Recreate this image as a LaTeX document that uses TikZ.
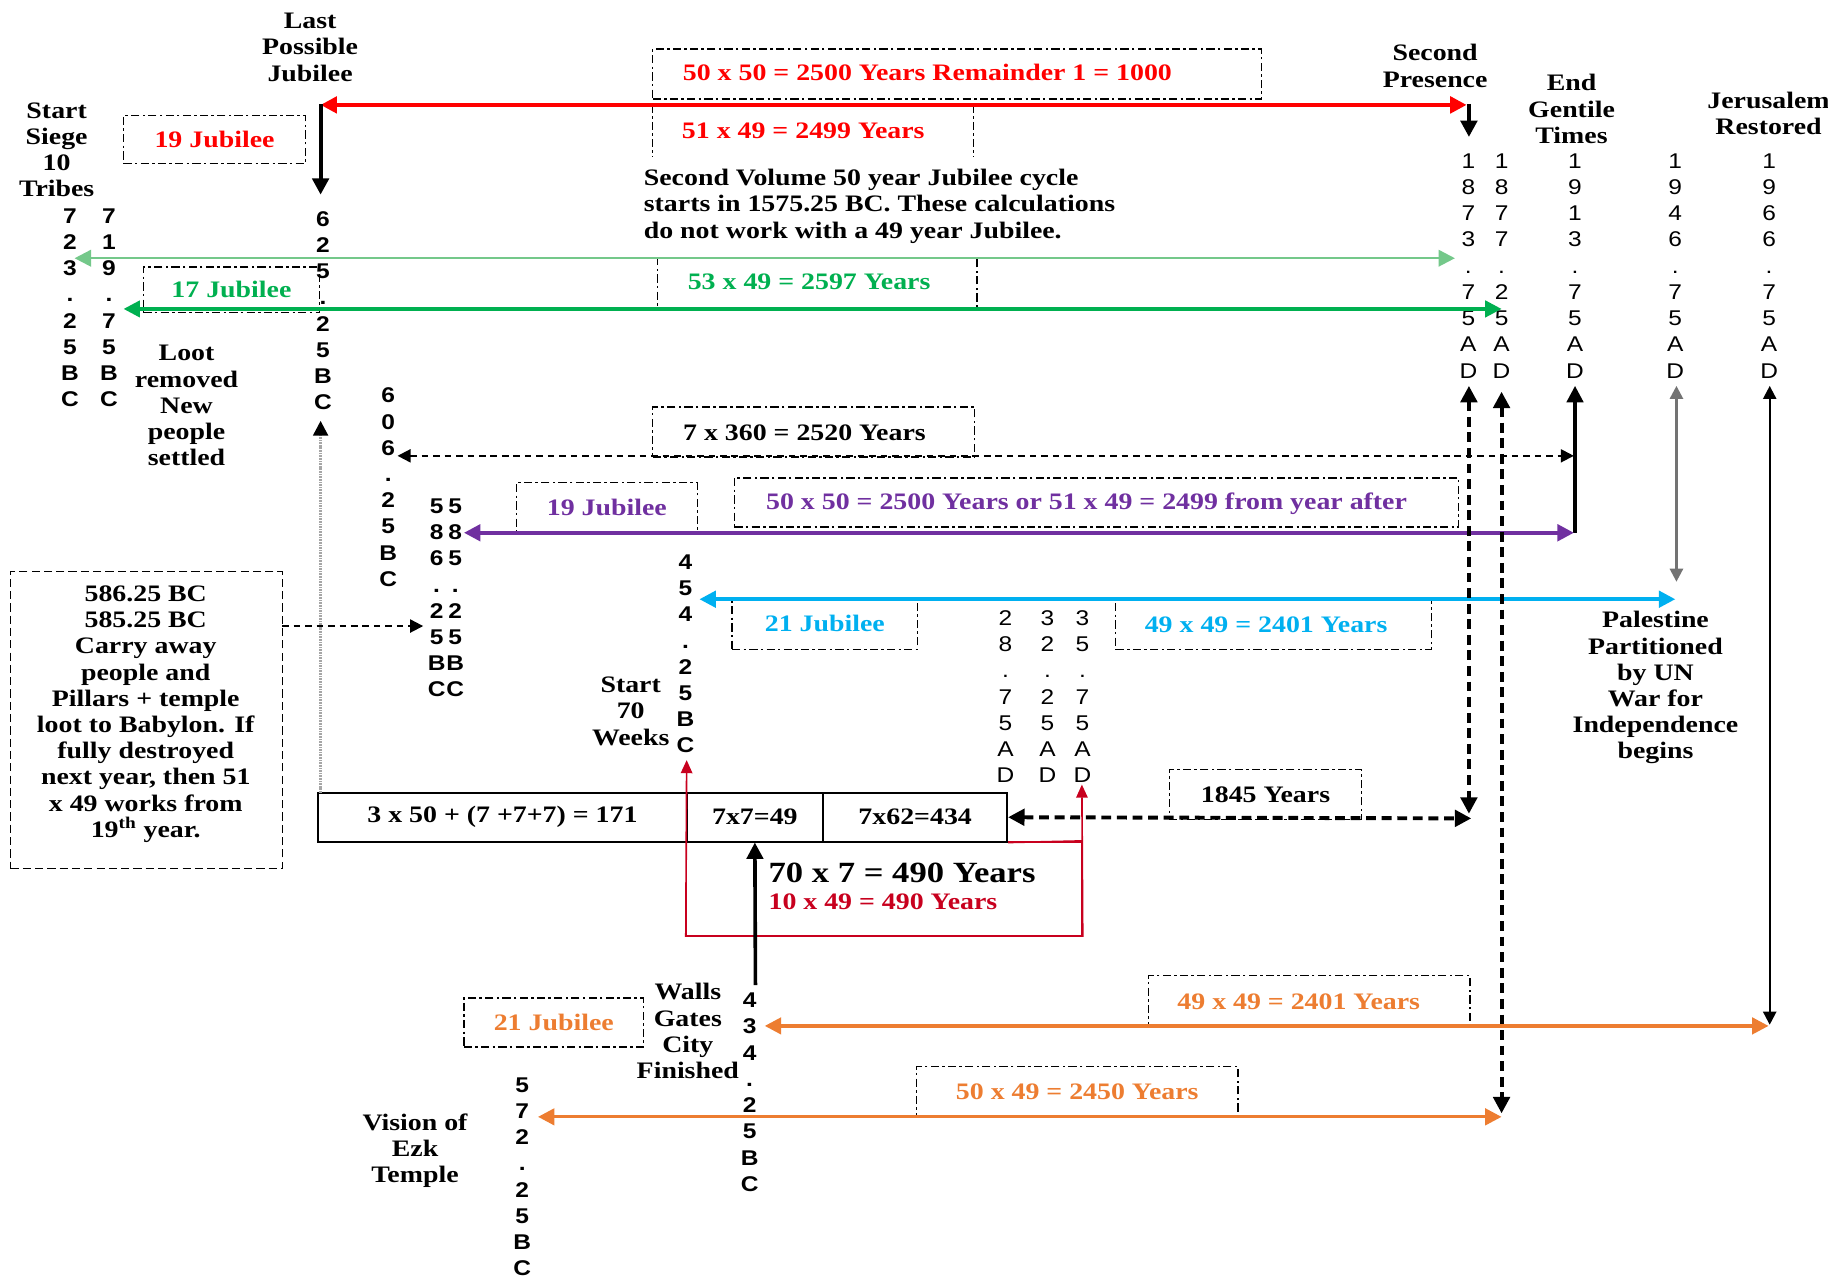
\documentclass[tikz,border=0pt]{standalone}
\usepackage{fontspec}
\newfontfamily\tnr{Liberation Serif}[FakeStretch=1.18]
\newfontfamily\ars{Liberation Sans}[FakeStretch=1.15]
\usetikzlibrary{arrows.meta}
\definecolor{jred}{HTML}{FF0000}
\definecolor{dred}{HTML}{C8001E}
\definecolor{lgreen}{HTML}{74C88A}
\definecolor{jgreen}{HTML}{00B050}
\definecolor{jpurple}{HTML}{7030A0}
\definecolor{jcyan}{HTML}{00B0F0}
\definecolor{jorange}{HTML}{ED7D31}
\tikzset{
  every node/.style={inner sep=0pt},
  lbl/.style={font=\tnr\bfseries\fontsize{14.4}{16}\selectfont, align=center},
  bigl/.style={font=\tnr\bfseries\fontsize{17.9}{20}\selectfont},
  digb/.style={font=\ars\bfseries\fontsize{13}{16}\selectfont, align=center, anchor=north},
  digr/.style={font=\ars\fontsize{13}{16}\selectfont, align=center, anchor=north},
  dbox/.style={draw=black, line width=0.8pt, dash pattern=on 5pt off 2pt on 1.5pt off 2pt},
  dashbox/.style={draw=black, line width=0.8pt, dash pattern=on 5pt off 2.5pt},
  cell/.style={lbl, draw=black, line width=1pt, minimum height=1.05cm},
  bt/.style={{Triangle[length=10pt,width=10pt]}-{Triangle[length=10pt,width=10pt]}},
  et/.style={-{Triangle[length=10pt,width=10pt]}},
  st/.style={-{Triangle[length=8pt,width=8pt]}},
  sbt/.style={{Triangle[length=8pt,width=8pt]}-{Triangle[length=8pt,width=8pt]}},
  thickdash/.style={line width=2.4pt, dash pattern=on 6pt off 3.5pt},
  thindash/.style={line width=1.2pt, dash pattern=on 4pt off 3pt},
}
\begin{document}
\begin{tikzpicture}[x=0.025cm,y=-0.025cm]
\useasboundingbox (0,0) rectangle (1568,1095);
\fill[white] (0,0) rectangle (1568,1095);

% ---------- labels ----------
\node[lbl] (lpj) at (266,40.5) {Last\\Possible\\Jubilee};
\node[lbl] (ssiege) at (48.6,128.6) {Start\\Siege\\10\\Tribes};
\node[lbl] (secp) at (1231,56.5) {Second\\Presence};
\node[lbl] (egt) at (1348,93.5) {End\\Gentile\\Times};
\node[lbl] (jres) at (1517,97) {Jerusalem\\Restored};
\node[lbl] (loot) at (160,348) {Loot\\removed\\New\\people\\settled};
\node[lbl, align=left, anchor=west] (svol) at (552,177) {Second Volume 50 year Jubilee cycle\\starts in 1575.25 BC. These calculations\\do not work with a 49 year Jubilee.};
\node[lbl] (pal) at (1420,590) {Palestine\\Partitioned\\by UN\\War for\\Independence\\begins};
\node[lbl] (s70) at (541,610) {Start\\70\\Weeks};
\node[lbl] (walls) at (590,884.5) {Walls\\Gates\\City\\Finished};
\node[lbl] (vis) at (356,987) {Vision of\\Ezk\\Temple};

% ---------- dash-dot boxes ----------
\node[dbox, minimum width=3.9cm, minimum height=1.025cm, lbl, text=jred] (b19) at (184,119.5) {19 Jubilee};
\node[dbox, minimum width=13.05cm, minimum height=1.075cm] (b5050) at (821,63.5) {};
\node[lbl, text=jred] (t5050) at (795.5,62) {50 x 50 = 2500 Years Remainder 1 = 1000};
\node[minimum width=6.875cm, minimum height=1.1cm] (b5149) at (697.5,112) {};
\draw[dbox] (b5149.north west) -- (b5149.south west);
\draw[dbox] (b5149.north east) -- (b5149.south east);
\node[lbl, text=jred] (t5149) at (689,112) {51 x 49 = 2499 Years};
\node[dbox, minimum width=3.775cm, minimum height=0.975cm, lbl, text=jgreen] (b17) at (198.5,248.5) {17 Jubilee};
\node[dbox, minimum width=6.85cm, minimum height=1.0875cm] (b5349) at (701,243.5) {};
\node[lbl, text=jgreen] (t5349) at (694,242) {53 x 49 = 2597 Years};
\node[dbox, minimum width=6.9cm, minimum height=1.075cm] (b7360) at (698,370.5) {};
\node[lbl] (t7360) at (690,371) {7 x 360 = 2520 Years};
\node[dbox, minimum width=3.875cm, minimum height=1.075cm, lbl, text=jpurple] (bp19) at (520.5,435.5) {19 Jubilee};
\node[dbox, minimum width=15.525cm, minimum height=1.05cm] (bp5050) at (940.5,431) {};
\node[lbl, text=jpurple] (tp5050) at (932,432) {50 x 50 = 2500 Years or 51 x 49 = 2499 from year after};
\node[dbox, minimum width=3.975cm, minimum height=1.1cm, lbl, text=jcyan] (bc21) at (707.5,535) {21 Jubilee};
\node[dbox, minimum width=6.775cm, minimum height=1.1cm] (bc49) at (1092.5,535) {};
\node[lbl, text=jcyan] (tc49) at (1086,536) {49 x 49 = 2401 Years};
\node[dbox, minimum width=4.125cm, minimum height=1.075cm, lbl] (b1845) at (1085.5,681.5) {1845 Years};
\node[dbox, minimum width=3.85cm, minimum height=1.05cm, lbl, text=jorange] (bo21) at (475,877) {21 Jubilee};
\node[dbox, minimum width=6.9cm, minimum height=1.075cm] (bo49) at (1123,858.5) {};
\node[lbl, text=jorange] (to49) at (1114,859) {49 x 49 = 2401 Years};
\node[dbox, minimum width=6.9cm, minimum height=1.075cm, lbl, text=jorange] (bo50) at (924,936.5) {50 x 49 = 2450 Years};

% ---------- left dashed box ----------
\node[dashbox, minimum width=5.825cm, minimum height=6.375cm] (bleft) at (125.5,617.5) {};
\node[lbl] (tleft) at (125,612.5) {586.25 BC\\585.25 BC\\Carry away\\people and\\Pillars + temple\\loot to Babylon. If\\fully destroyed\\next year, then 51\\x 49 works from\\19\textsuperscript{th} year.};

% ---------- digit columns ----------
\node[digb] (c723) at (60,178.5) {7\\2\\3\\.\\2\\5\\B\\C};
\node[digb] (c719) at (93.5,178.5) {7\\1\\9\\.\\7\\5\\B\\C};
\node[digb] (c625) at (277,181) {6\\2\\5\\.\\2\\5\\B\\C};
\node[digb] (c606) at (333,332.5) {6\\0\\6\\.\\2\\5\\B\\C};
\node[digb] (c586) at (374.5,427.5) {5\\8\\6\\.\\2\\5\\B\\C};
\node[digb] (c585) at (390.5,427.5) {5\\8\\5\\.\\2\\5\\B\\C};
\node[digb] (c454) at (588,475.5) {4\\5\\4\\.\\2\\5\\B\\C};
\node[digr] (c28) at (862.5,523.5) {2\\8\\.\\7\\5\\A\\D};
\node[digr] (c32) at (898.5,523.5) {3\\2\\.\\2\\5\\A\\D};
\node[digr] (c35) at (928.5,523.5) {3\\5\\.\\7\\5\\A\\D};
\node[digr] (c1873) at (1259.5,131.5) {1\\8\\7\\3\\.\\7\\5\\A\\D};
\node[digr] (c1877) at (1288,131.5) {1\\8\\7\\7\\.\\2\\5\\A\\D};
\node[digr] (c1913) at (1351,131.5) {1\\9\\1\\3\\.\\7\\5\\A\\D};
\node[digr] (c1946) at (1437,131.5) {1\\9\\4\\6\\.\\7\\5\\A\\D};
\node[digr] (c1966) at (1517.5,131.5) {1\\9\\6\\6\\.\\7\\5\\A\\D};
\node[digb] (c434) at (643,851.5) {4\\3\\4\\.\\2\\5\\B\\C};
\node[digb] (c572) at (448,924) {5\\7\\2\\.\\2\\5\\B\\C};

% ---------- red rectangle and table ----------
\node[draw=dred, line width=1pt, minimum width=8.475cm, minimum height=2.025cm] (rrect) at (758.5,762.5) {};
\node[cell, minimum width=7.9cm] (t1) at (431,701) {3 x 50 + (7 +7+7) = 171};
\node[cell, minimum width=2.925cm] (t2) at (647.5,701) {7x7=49};
\node[cell, minimum width=3.95cm] (t3) at (785,701) {7x62=434};
\node[bigl, anchor=west] (t490) at (659,749) {70 x 7 = 490 Years};
\node[lbl, text=dred, anchor=west] (t1049) at (659,773.5) {10 x 49 = 490 Years};

% ---------- coordinates ----------
\coordinate (rL) at (275,90);
\coordinate (rR) at (1258,90);
\coordinate (lpjA) at (275,89);
\coordinate (lpjB) at (275,167);
\coordinate (spA) at (1260,89);
\coordinate (spB) at (1260,117.5);
\coordinate (lgL) at (64,221.5);
\coordinate (lgR) at (1248,221.5);
\coordinate (gL) at (106,265);
\coordinate (gR) at (1288,265);
\coordinate (gyB) at (275,680);
\coordinate (gyT) at (275,361);
\coordinate (d360L) at (341,391);
\coordinate (d360R) at (1350,391);
\coordinate (egB) at (1351,457);
\coordinate (egT) at (1351,331);
\coordinate (pL) at (398,457);
\coordinate (pR) at (1350,457);
\coordinate (blA) at (242,537);
\coordinate (blB) at (363,537);
\coordinate (cL) at (600,514);
\coordinate (cR) at (1437,514);
\coordinate (palT) at (1438,331);
\coordinate (palB) at (1438,499);
\coordinate (yR) at (1262,702);
\coordinate (v1T) at (1260,331);
\coordinate (v1B) at (1260,698);
\coordinate (v2T) at (1288,336);
\coordinate (v2B) at (1288,955);
\coordinate (v3T) at (1518,331);
\coordinate (v3B) at (1518,879);
\coordinate (o1L) at (656,880);
\coordinate (o1R) at (1517,880);
\coordinate (o2L) at (461.5,958);
\coordinate (o2R) at (1288,958);
\coordinate (s70tip) at (589,652);
\coordinate (c35tip) at (928,673);
\coordinate (wallsTop) at (648,845);

% ---------- connectors ----------
\draw[dred, line width=1pt] (t3.south east) -- (rrect.north east);
\draw[dred, line width=1pt, -{Triangle[length=8pt,width=7pt]}] (rrect.south west) -- (s70tip);
\draw[dred, line width=1pt, -{Triangle[length=8pt,width=7pt]}] (rrect.south east) -- (c35tip);
\draw[line width=2.2pt, et] (wallsTop) -- (t2.south);

\draw[jred, line width=2.4pt, bt] (rL) -- (rR);
\draw[line width=2.5pt, et] (lpjA) -- (lpjB);
\draw[line width=2.5pt, et] (spA) -- (spB);
\draw[lgreen, line width=1.5pt, bt] (lgL) -- (lgR);
\draw[jgreen, line width=2pt, bt] (gL) -- (gR);
\draw[black!35, line width=1.6pt, dash pattern=on 1pt off 0.6pt, -{Triangle[length=9pt,width=9pt,color=black]}] (gyB) -- (gyT);
\draw[thindash, sbt] (d360L) -- (d360R);
\draw[line width=2pt, et] (egB) -- (egT);
\draw[jpurple, line width=2.2pt, bt] (pL) -- (pR);
\draw[thindash, st] (blA) -- (blB);
\draw[jcyan, line width=2.2pt, bt] (cL) -- (cR);
\draw[black!55, line width=1.6pt, sbt] (palT) -- (palB);
\draw[thickdash, bt] (t3.east) -- (yR);
\draw[thickdash, bt] (v1T) -- (v1B);
\draw[thickdash, bt] (v2T) -- (v2B);
\draw[line width=1.3pt, sbt] (v3T) -- (v3B);
\draw[jorange, line width=2pt, bt] (o1L) -- (o1R);
\draw[jorange, line width=2pt, bt] (o2L) -- (o2R);
\end{tikzpicture}
\end{document}
